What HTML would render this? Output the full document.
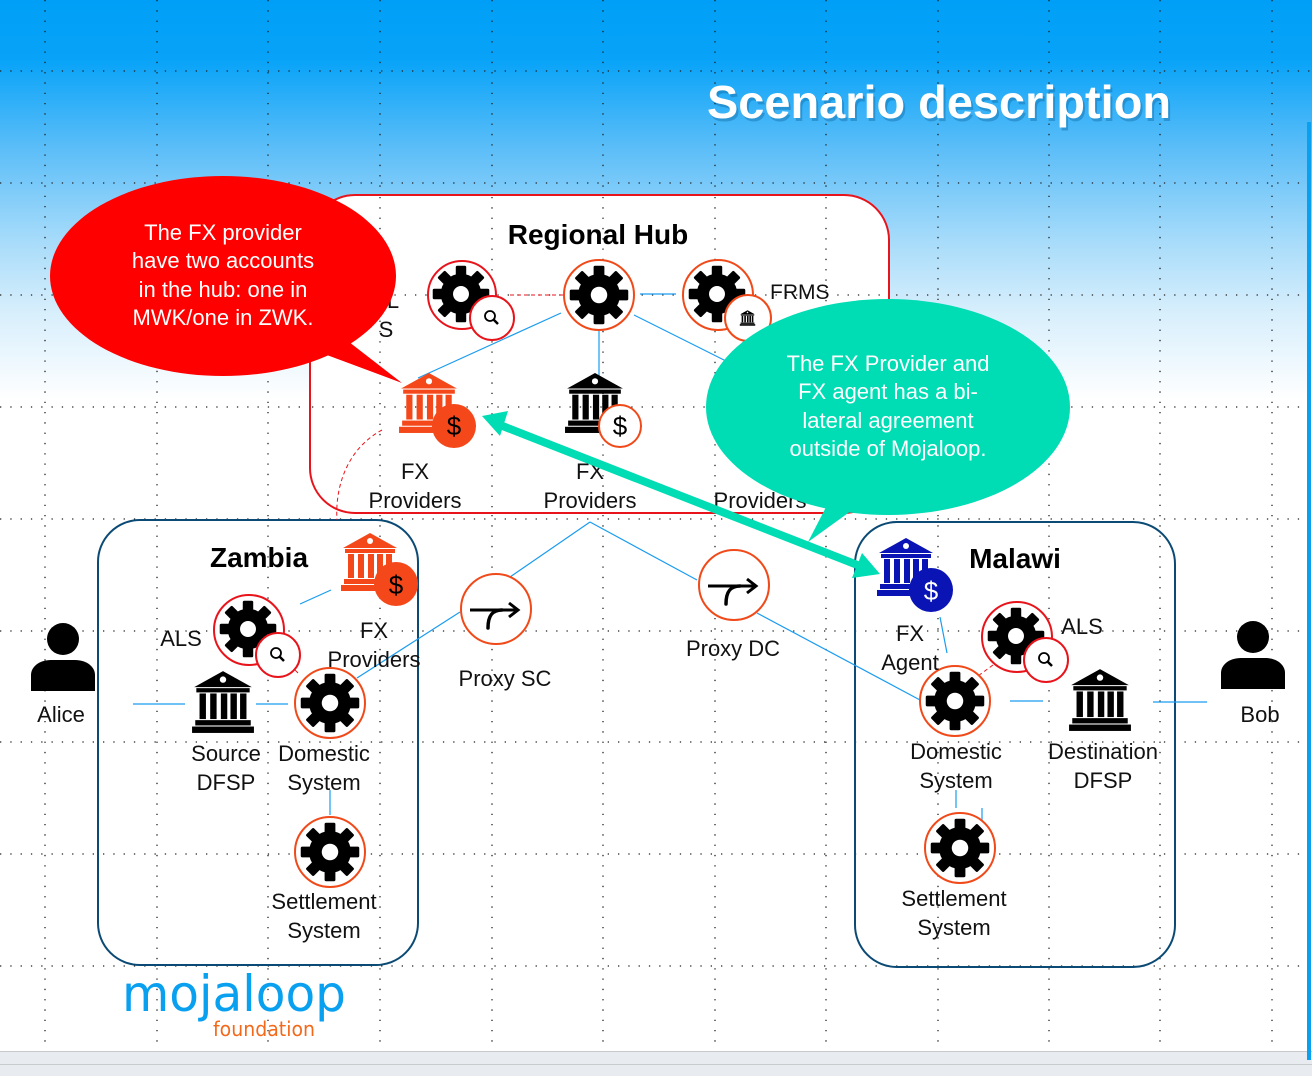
<!DOCTYPE html>
<html><head><meta charset="utf-8"><style>
html,body{margin:0;padding:0;}
body{width:1312px;height:1076px;overflow:hidden;position:relative;background:#fff;font-family:"Liberation Sans",sans-serif;}
#bg{position:absolute;left:0;top:0;width:1312px;height:440px;background:linear-gradient(to bottom,#009ff7 0px,#08a3f8 60px,#5dbef8 150px,#a6dbfa 240px,#d6eefc 310px,#ffffff 400px);}
svg{position:absolute;left:0;top:0;}
</style></head><body>
<div id="bg"></div>
<svg width="1312" height="1076" viewBox="0 0 1312 1076" xmlns="http://www.w3.org/2000/svg" font-family="Liberation Sans, sans-serif">
<defs>
<symbol id="gear" viewBox="-20 -20 40 40">
 <g fill="#000">
  <circle r="14"/>
  <rect x="-3.6" y="-19.5" width="7.2" height="8" rx="1"/>
  <rect x="-3.6" y="-19.5" width="7.2" height="8" rx="1" transform="rotate(45)"/>
  <rect x="-3.6" y="-19.5" width="7.2" height="8" rx="1" transform="rotate(90)"/>
  <rect x="-3.6" y="-19.5" width="7.2" height="8" rx="1" transform="rotate(135)"/>
  <rect x="-3.6" y="-19.5" width="7.2" height="8" rx="1" transform="rotate(180)"/>
  <rect x="-3.6" y="-19.5" width="7.2" height="8" rx="1" transform="rotate(225)"/>
  <rect x="-3.6" y="-19.5" width="7.2" height="8" rx="1" transform="rotate(270)"/>
  <rect x="-3.6" y="-19.5" width="7.2" height="8" rx="1" transform="rotate(315)"/>
 </g>
 <circle r="5.5" fill="#fff"/>
</symbol>
<symbol id="bank" viewBox="0 0 60 60">
 <polygon points="30,1 57,16 3,16"/>
 <circle cx="30" cy="9" r="3" fill="#fff"/>
 <rect x="5" y="17" width="50" height="4"/>
 <rect x="8" y="22" width="6" height="24"/><rect x="18" y="22" width="6" height="24"/><rect x="28" y="22" width="6" height="24"/><rect x="37" y="22" width="6" height="24"/><rect x="46" y="22" width="6" height="24"/>
 <rect x="4" y="47" width="52" height="5"/><rect x="1" y="53" width="58" height="6"/>
</symbol>
<symbol id="mag" viewBox="0 0 20 20">
 <circle cx="8" cy="8" r="5" fill="none" stroke="#000" stroke-width="1.8"/>
 <line x1="11.5" y1="11.5" x2="16" y2="16" stroke="#000" stroke-width="2.5"/>
</symbol>
<symbol id="proxy" viewBox="0 0 60 40">
 <path d="M4 14 H50" stroke="#000" stroke-width="3" fill="none"/>
 <path d="M43 7 L52 14 L43 21" stroke="#000" stroke-width="3" fill="none"/>
 <path d="M36 14 C26 14 22 20 22 32" stroke="#000" stroke-width="3.5" fill="none" stroke-linecap="round"/>
</symbol>
<symbol id="person" viewBox="0 0 64 68">
 <circle cx="32" cy="16" r="16"/>
 <path d="M0 68 V52 C0 44 8 37 20 37 H44 C56 37 64 44 64 52 V68 Z"/>
</symbol>
</defs>

<g stroke="#222" stroke-width="1.3" stroke-dasharray="1.3 9">
 <line x1="45" y1="0" x2="45" y2="1050"/><line x1="157" y1="0" x2="157" y2="1050"/><line x1="268" y1="0" x2="268" y2="1050"/><line x1="380" y1="0" x2="380" y2="1050"/><line x1="492" y1="0" x2="492" y2="1050"/><line x1="603" y1="0" x2="603" y2="1050"/><line x1="715" y1="0" x2="715" y2="1050"/><line x1="826" y1="0" x2="826" y2="1050"/><line x1="938" y1="0" x2="938" y2="1050"/><line x1="1049" y1="0" x2="1049" y2="1050"/><line x1="1160" y1="0" x2="1160" y2="1050"/><line x1="1272" y1="0" x2="1272" y2="1050"/>
 <line x1="0" y1="71" x2="1312" y2="71"/><line x1="0" y1="183" x2="1312" y2="183"/><line x1="0" y1="295" x2="1312" y2="295"/><line x1="0" y1="407" x2="1312" y2="407"/><line x1="0" y1="519" x2="1312" y2="519"/><line x1="0" y1="631" x2="1312" y2="631"/><line x1="0" y1="742" x2="1312" y2="742"/><line x1="0" y1="854" x2="1312" y2="854"/><line x1="0" y1="966" x2="1312" y2="966"/>
</g>

<text x="939" y="118" text-anchor="middle" font-size="46" font-weight="bold" fill="#0a5a90" opacity="0.35" transform="translate(2,3)" textLength="464" lengthAdjust="spacingAndGlyphs">Scenario description</text>
<text x="939" y="118" text-anchor="middle" font-size="46" font-weight="bold" fill="#fff" textLength="464" lengthAdjust="spacingAndGlyphs">Scenario description</text>

<rect x="310" y="195" width="579" height="318" rx="45" fill="#fff" stroke="#e8141b" stroke-width="2"/>
<rect x="98" y="520" width="320" height="445" rx="42" fill="none" stroke="#0b4a74" stroke-width="2"/>
<rect x="855" y="522" width="320" height="445" rx="42" fill="none" stroke="#0b4a74" stroke-width="2"/>

<g stroke="#222" stroke-width="1.3" stroke-dasharray="1.3 9">
 <line x1="380" y1="197" x2="380" y2="511"/><line x1="492" y1="197" x2="492" y2="511"/><line x1="603" y1="197" x2="603" y2="511"/><line x1="715" y1="197" x2="715" y2="511"/><line x1="826" y1="197" x2="826" y2="511"/>
 <line x1="312" y1="295" x2="887" y2="295"/><line x1="312" y1="407" x2="887" y2="407"/>
</g>

<g stroke="#1a9cf0" stroke-width="1.2" fill="none">
 <line x1="561" y1="313" x2="418" y2="378"/>
 <line x1="599" y1="330" x2="599" y2="378"/>
 <line x1="634" y1="315" x2="740" y2="368"/>
 <line x1="640" y1="294" x2="676" y2="294"/>
 <line x1="590" y1="522" x2="510" y2="577"/>
 <line x1="590" y1="522" x2="697" y2="580"/>
 <line x1="300" y1="604" x2="331" y2="590"/>
 <line x1="133" y1="704" x2="185" y2="704"/>
 <line x1="256" y1="704" x2="288" y2="704"/>
 <line x1="357" y1="678" x2="460" y2="612"/>
 <line x1="330" y1="790" x2="330" y2="815"/>
 <line x1="757" y1="613" x2="920" y2="700"/>
 <line x1="940" y1="617" x2="947" y2="653"/>
 <line x1="1010" y1="701" x2="1043" y2="701"/>
 <line x1="1153" y1="702" x2="1207" y2="702"/>
 <line x1="982" y1="808" x2="982" y2="833"/>
 <line x1="956" y1="790" x2="956" y2="808"/>
</g>
<g stroke="#e8141b" stroke-width="1" stroke-dasharray="4 3" fill="none">
 <line x1="510" y1="295" x2="563" y2="295"/>
 <path d="M382 430 C345 450 335 490 337 520"/>
 <line x1="993" y1="665" x2="978" y2="676"/>
 <line x1="298" y1="673" x2="290" y2="665"/>
</g>

<circle cx="462" cy="295" r="34" fill="#fff" stroke="#e8141b" stroke-width="2"/>
<use href="#gear" x="432" y="265" width="58" height="58"/>
<circle cx="492" cy="318" r="22" fill="#fff" stroke="#e8141b" stroke-width="2"/>
<use href="#mag" x="482" y="308" width="20" height="20"/>
<circle cx="599" cy="295" r="35" fill="#fff" stroke="#f04a1a" stroke-width="2"/>
<use href="#gear" x="569" y="265" width="60" height="60"/>
<circle cx="718" cy="295" r="35" fill="#fff" stroke="#f04a1a" stroke-width="2"/>
<use href="#gear" x="688" y="265" width="58" height="58"/>
<circle cx="748" cy="318" r="23" fill="#fff" stroke="#f04a1a" stroke-width="2"/>
<use href="#bank" x="738" y="310" width="19" height="16"/>
<text x="770" y="299" font-size="21" fill="#111">FRMS</text>

<use href="#bank" x="398" y="372" width="62" height="62" fill="#f4481a"/>
<circle cx="454" cy="426" r="22" fill="#f4481a"/>
<text x="454" y="435" text-anchor="middle" font-size="26" fill="#000">$</text>
<use href="#bank" x="564" y="372" width="62" height="62" fill="#000"/>
<circle cx="620" cy="426" r="21" fill="#fff" stroke="#f04a1a" stroke-width="2"/>
<text x="620" y="435" text-anchor="middle" font-size="26" fill="#000">$</text>

<g font-size="22" fill="#111" text-anchor="middle">
 <text x="415" y="479">FX</text><text x="415" y="508">Providers</text>
 <text x="590" y="479">FX</text><text x="590" y="508">Providers</text>
 <text x="760" y="508">Providers</text>
 <text x="393" y="308">L</text><text x="386" y="337">S</text>
</g>
<text x="598" y="244" text-anchor="middle" font-size="28" font-weight="bold" fill="#000">Regional Hub</text>

<path d="M300 345 L402 383 L340 335 Z" fill="#fe0000"/>
<ellipse cx="223" cy="276" rx="173" ry="100" fill="#fe0000"/>
<g font-size="22" fill="#fff" text-anchor="middle">
 <text x="223" y="240">The FX provider</text>
 <text x="223" y="268">have two accounts</text>
 <text x="223" y="297">in the hub: one in</text>
 <text x="223" y="325">MWK/one in ZWK.</text>
</g>

<text x="259" y="567" text-anchor="middle" font-size="28" font-weight="bold" fill="#000">Zambia</text>
<use href="#bank" x="340" y="532" width="60" height="60" fill="#f4481a"/>
<circle cx="396" cy="584" r="22" fill="#f4481a"/>
<text x="396" y="594" text-anchor="middle" font-size="26" fill="#000">$</text>
<circle cx="249" cy="630" r="35" fill="#fff" stroke="#e8141b" stroke-width="2"/>
<use href="#gear" x="219" y="600" width="58" height="58"/>
<circle cx="278" cy="655" r="22" fill="#fff" stroke="#e8141b" stroke-width="2"/>
<use href="#mag" x="268" y="645" width="20" height="20"/>
<use href="#bank" x="191" y="670" width="64" height="64" fill="#000"/>
<circle cx="330" cy="703" r="35" fill="#fff" stroke="#f04a1a" stroke-width="2"/>
<use href="#gear" x="300" y="673" width="60" height="60"/>
<circle cx="330" cy="852" r="35" fill="#fff" stroke="#f04a1a" stroke-width="2"/>
<use href="#gear" x="300" y="822" width="60" height="60"/>
<circle cx="496" cy="609" r="35" fill="#fff" stroke="#f04a1a" stroke-width="2"/>
<use href="#proxy" x="466" y="596" width="60" height="40"/>
<g font-size="22" fill="#111" text-anchor="middle">
 <text x="181" y="646">ALS</text>
 <text x="374" y="638">FX</text><text x="374" y="667">Providers</text>
 <text x="226" y="761">Source</text><text x="226" y="790">DFSP</text>
 <text x="324" y="761">Domestic</text><text x="324" y="790">System</text>
 <text x="324" y="909">Settlement</text><text x="324" y="938">System</text>
 <text x="505" y="686">Proxy SC</text>
 <text x="733" y="656">Proxy DC</text>
 <text x="61" y="722">Alice</text>
 <text x="1260" y="722">Bob</text>
</g>
<use href="#person" x="31" y="623" width="64" height="68" fill="#000"/>
<use href="#person" x="1221" y="621" width="64" height="68" fill="#000"/>

<circle cx="734" cy="585" r="35" fill="#fff" stroke="#f04a1a" stroke-width="2"/>
<use href="#proxy" x="704" y="572" width="60" height="40"/>

<text x="1015" y="568" text-anchor="middle" font-size="28" font-weight="bold" fill="#000">Malawi</text>
<use href="#bank" x="876" y="537" width="60" height="60" fill="#0a14b4"/>
<circle cx="931" cy="590" r="22" fill="#0a14b4"/>
<text x="931" y="600" text-anchor="middle" font-size="26" fill="#fff">$</text>
<circle cx="1017" cy="637" r="35" fill="#fff" stroke="#e8141b" stroke-width="2"/>
<use href="#gear" x="987" y="607" width="58" height="58"/>
<circle cx="1046" cy="660" r="22" fill="#fff" stroke="#e8141b" stroke-width="2"/>
<use href="#mag" x="1036" y="650" width="20" height="20"/>
<circle cx="955" cy="701" r="35" fill="#fff" stroke="#f04a1a" stroke-width="2"/>
<use href="#gear" x="925" y="671" width="60" height="60"/>
<use href="#bank" x="1068" y="668" width="64" height="64" fill="#000"/>
<circle cx="960" cy="848" r="35" fill="#fff" stroke="#f04a1a" stroke-width="2"/>
<use href="#gear" x="930" y="818" width="60" height="60"/>
<g font-size="22" fill="#111" text-anchor="middle">
 <text x="910" y="641">FX</text><text x="910" y="670">Agent</text>
 <text x="1082" y="634">ALS</text>
 <text x="956" y="759">Domestic</text><text x="956" y="788">System</text>
 <text x="1103" y="759">Destination</text><text x="1103" y="788">DFSP</text>
 <text x="954" y="906">Settlement</text><text x="954" y="935">System</text>
</g>

<path d="M840 480 L808 542 L880 490 Z" fill="#00dcb4"/>
<ellipse cx="888" cy="407" rx="182" ry="108" fill="#00dcb4"/>
<g font-size="22" fill="#fff" text-anchor="middle">
 <text x="888" y="371">The FX Provider and</text>
 <text x="888" y="399">FX agent has a bi-</text>
 <text x="888" y="428">lateral agreement</text>
 <text x="888" y="456">outside of Mojaloop.</text>
</g>

<line x1="500" y1="425" x2="860" y2="566" stroke="#00dcb4" stroke-width="8"/>
<polygon points="482,416 508,411 500,436" fill="#00dcb4"/>
<polygon points="880,574 852,578 862,553" fill="#00dcb4"/>

<text x="122" y="1011" font-family="DejaVu Sans, sans-serif" font-size="50" fill="#0aa0f0" textLength="224" lengthAdjust="spacingAndGlyphs">mojaloop</text>
<text x="213" y="1036" font-family="DejaVu Sans, sans-serif" font-size="20" fill="#f4681a" textLength="102" lengthAdjust="spacingAndGlyphs">foundation</text>

<rect x="0" y="1051" width="1312" height="25" fill="#e8ebf0"/>
<line x1="0" y1="1051.5" x2="1312" y2="1051.5" stroke="#c8cacc" stroke-width="1"/>
<line x1="0" y1="1064.5" x2="1312" y2="1064.5" stroke="#c8cacc" stroke-width="1"/>
<rect x="1307" y="122" width="4" height="938" fill="#0aa0f0"/>
</svg>
</body></html>
